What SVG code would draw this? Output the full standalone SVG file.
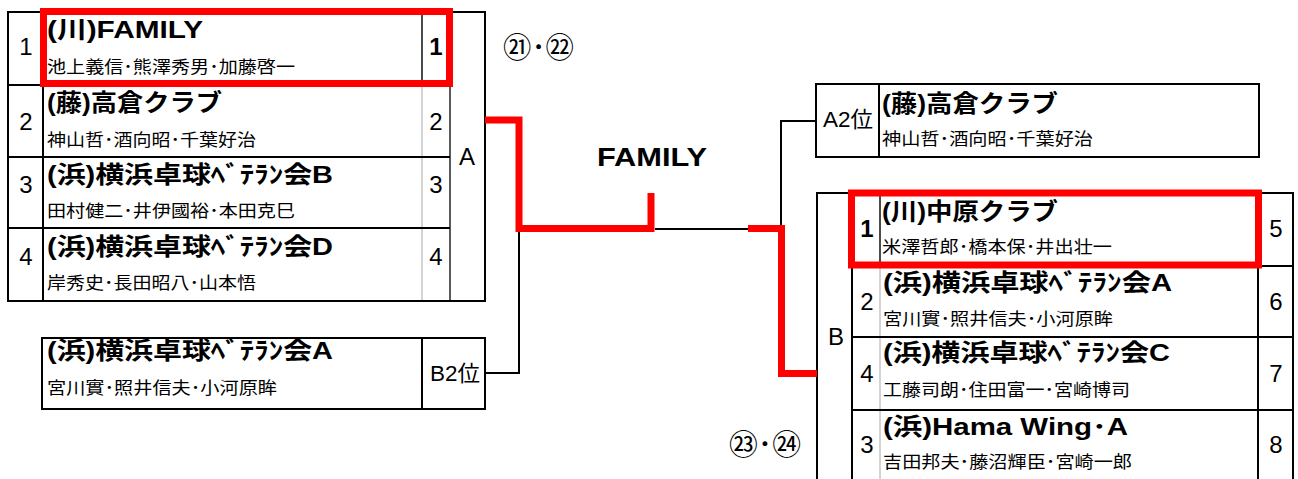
<svg xmlns="http://www.w3.org/2000/svg" width="1298" height="479" viewBox="0 0 1298 479">
<style>
text{font-family:"Liberation Sans","Noto Sans CJK JP",sans-serif;fill:#000}
.t{font-weight:bold;font-size:24px}
.m{font-size:17px}
.n{font-size:24px;text-anchor:middle}
.nb{font-size:24px;text-anchor:middle;font-weight:bold}
.c{font-size:22px}
.o{font-size:28px}
.k{stroke:#000;stroke-width:2;fill:none}
.k1{stroke:#000;stroke-width:1.3;fill:none}
.g{stroke:#a8a8a8;stroke-width:1;fill:none}
.r{stroke:#f00;stroke-width:7;fill:none;stroke-linejoin:miter}
</style>
<rect width="1298" height="479" fill="#fff"/>

<g id="group-a">
<line class="g" x1="422" y1="12" x2="422" y2="301"/>
<line class="k1" x1="422" y1="12" x2="422" y2="85"/>
<rect class="k" x="8" y="12" width="477" height="289"/>
<line class="k" x1="43" y1="12" x2="43" y2="301"/>
<line class="k1" x1="450" y1="12" x2="450" y2="301"/>
<line class="k" x1="8" y1="85" x2="450" y2="85"/>
<line class="k" x1="8" y1="157" x2="450" y2="157"/>
<line class="k" x1="8" y1="228" x2="450" y2="228"/>
<text class="n" x="467" y="165">A</text>
<g id="a1">
<text class="n" x="26" y="55">1</text>
<text class="t" x="47" y="38" textLength="156" lengthAdjust="spacingAndGlyphs">(川)FAMILY</text>
<text class="m" x="47" y="73" textLength="248" lengthAdjust="spacingAndGlyphs">池上義信･熊澤秀男･加藤啓一</text>
<text class="nb" x="436" y="55">1</text>
</g>
<g id="a2">
<text class="n" x="26" y="130">2</text>
<text class="t" x="47" y="111" textLength="175" lengthAdjust="spacingAndGlyphs">(藤)高倉クラブ</text>
<text class="m" x="47" y="146" textLength="209" lengthAdjust="spacingAndGlyphs">神山哲･酒向昭･千葉好治</text>
<text class="n" x="436" y="130">2</text>
</g>
<g id="a3">
<text class="n" x="26" y="193">3</text>
<text class="t" x="47" y="183" textLength="286" lengthAdjust="spacingAndGlyphs">(浜)横浜卓球ﾍﾞﾃﾗﾝ会B</text>
<text class="m" x="47" y="217" textLength="248" lengthAdjust="spacingAndGlyphs">田村健二･井伊國裕･本田克巳</text>
<text class="n" x="436" y="193">3</text>
</g>
<g id="a4">
<text class="n" x="26" y="265">4</text>
<text class="t" x="47" y="255" textLength="286" lengthAdjust="spacingAndGlyphs">(浜)横浜卓球ﾍﾞﾃﾗﾝ会D</text>
<text class="m" x="47" y="289" textLength="209" lengthAdjust="spacingAndGlyphs">岸秀史･長田昭八･山本悟</text>
<text class="n" x="436" y="265">4</text>
</g>
<rect class="r" x="43.5" y="11.5" width="406" height="72"/>
</g>

<g id="b2-box">
<rect class="k" x="42" y="338" width="443" height="71"/>
<line class="k" x1="422" y1="338" x2="422" y2="409"/>
<text class="t" x="47" y="359" textLength="286" lengthAdjust="spacingAndGlyphs">(浜)横浜卓球ﾍﾞﾃﾗﾝ会A</text>
<text class="m" x="47" y="394" textLength="230" lengthAdjust="spacingAndGlyphs">宮川實･照井信夫･小河原眸</text>
<text class="c" x="430" y="381" textLength="50" lengthAdjust="spacingAndGlyphs">B2位</text>
</g>

<g id="a2-box">
<rect class="k" x="816" y="84" width="443" height="73"/>
<line class="k" x1="879" y1="84" x2="879" y2="157"/>
<text class="c" x="823" y="127" textLength="50" lengthAdjust="spacingAndGlyphs">A2位</text>
<text class="t" x="882" y="112" textLength="176" lengthAdjust="spacingAndGlyphs">(藤)高倉クラブ</text>
<text class="m" x="882" y="145" textLength="211" lengthAdjust="spacingAndGlyphs">神山哲･酒向昭･千葉好治</text>
</g>

<g id="group-b">
<line class="g" x1="880" y1="193" x2="880" y2="485"/>
<line class="k1" x1="880" y1="193" x2="880" y2="266"/>
<path class="k" d="M817 485 V193 H1293 V485"/>
<line class="k" x1="852" y1="193" x2="852" y2="485"/>
<line class="k" x1="1258" y1="193" x2="1258" y2="485"/>
<line class="k" x1="852" y1="266" x2="1293" y2="266"/>
<line class="k" x1="852" y1="337" x2="1293" y2="337"/>
<line class="k" x1="852" y1="410" x2="1293" y2="410"/>
<text class="n" x="836" y="345">B</text>
<g id="b1">
<text class="nb" x="867" y="237">1</text>
<text class="t" x="882" y="220" textLength="176" lengthAdjust="spacingAndGlyphs">(川)中原クラブ</text>
<text class="m" x="882" y="253" textLength="230" lengthAdjust="spacingAndGlyphs">米澤哲郎･橋本保･井出壮一</text>
<text class="n" x="1276" y="237">5</text>
</g>
<g id="b2">
<text class="n" x="867" y="310">2</text>
<text class="t" x="883" y="291" textLength="289" lengthAdjust="spacingAndGlyphs">(浜)横浜卓球ﾍﾞﾃﾗﾝ会A</text>
<text class="m" x="883" y="325" textLength="230" lengthAdjust="spacingAndGlyphs">宮川實･照井信夫･小河原眸</text>
<text class="n" x="1276" y="310">6</text>
</g>
<g id="b3">
<text class="n" x="867" y="382">4</text>
<text class="t" x="883" y="361" textLength="287" lengthAdjust="spacingAndGlyphs">(浜)横浜卓球ﾍﾞﾃﾗﾝ会C</text>
<text class="m" x="883" y="396" textLength="247" lengthAdjust="spacingAndGlyphs">工藤司朗･住田富一･宮崎博司</text>
<text class="n" x="1276" y="382">7</text>
</g>
<g id="b4">
<text class="n" x="867" y="453">3</text>
<text class="t" x="883" y="435" textLength="245" lengthAdjust="spacingAndGlyphs">(浜)Hama Wing･A</text>
<text class="m" x="883" y="468" textLength="249" lengthAdjust="spacingAndGlyphs">吉田邦夫･藤沼輝臣･宮崎一郎</text>
<text class="n" x="1276" y="453">8</text>
</g>
<rect class="r" x="851.5" y="193" width="407" height="72"/>
</g>

<g id="connectors">
<path class="k" d="M519 232 V373 H485"/>
<path class="k" d="M655 229 H748"/>
<path class="k" d="M781 229 V121 H816"/>
<path class="r" d="M485 120 H519 V228.5 H651 V193"/>
<path class="r" d="M748 228.5 H781.5 V373.5 H817"/>
</g>

<g id="labels">
<text class="o" x="503" y="58" textLength="71" lengthAdjust="spacingAndGlyphs">㉑･㉒</text>
<text class="o" x="729" y="455" textLength="72" lengthAdjust="spacingAndGlyphs">㉓･㉔</text>
<text x="597" y="166" font-size="26" font-weight="bold" textLength="110" lengthAdjust="spacingAndGlyphs">FAMILY</text>
</g>
</svg>
